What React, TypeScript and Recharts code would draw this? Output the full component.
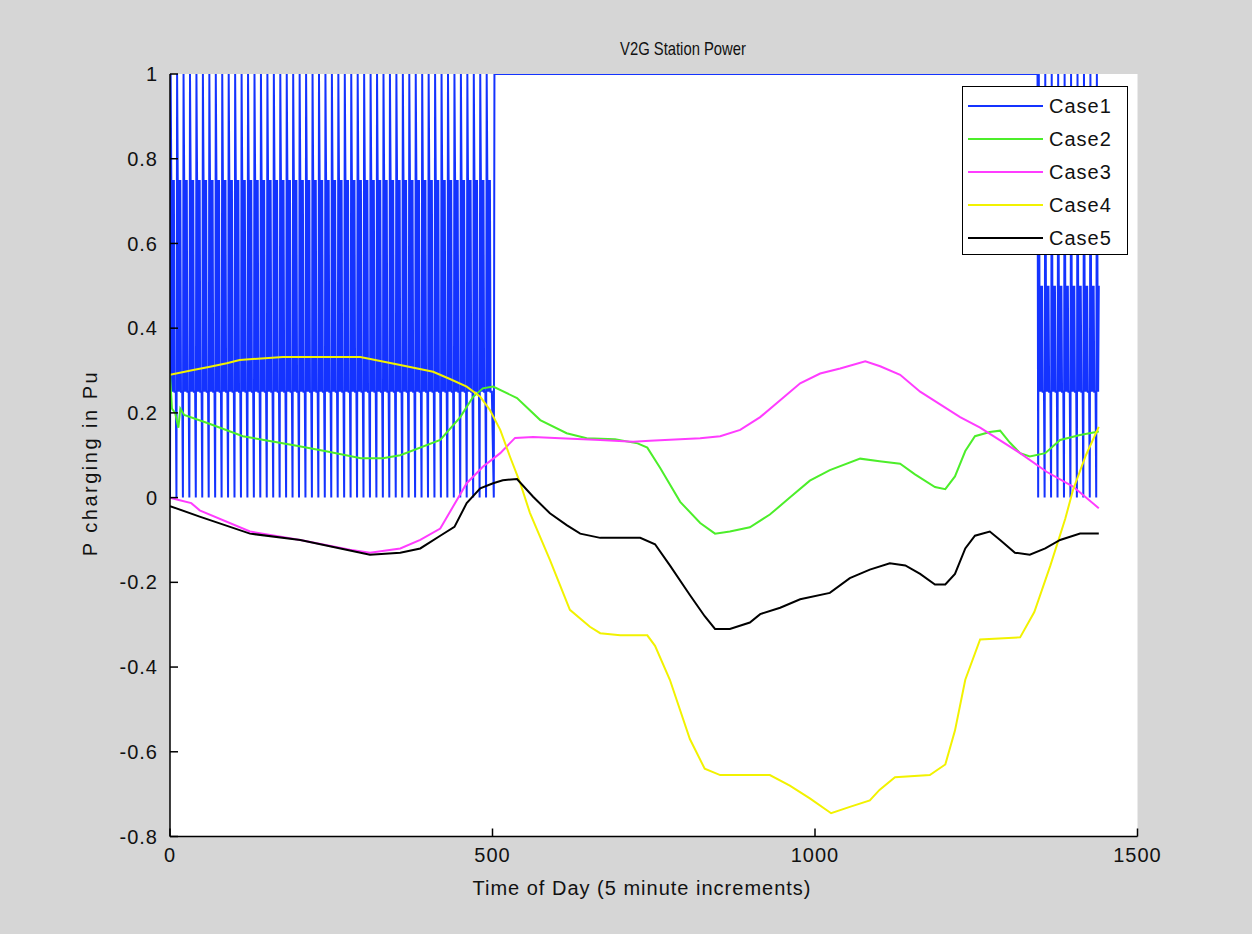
import React from 'react';
import { LineChart, Line, XAxis, YAxis, Legend, CartesianGrid } from 'recharts';

type Pt = { x: number; y: number };

// Axis ticks
const xTicks = [0, 500, 1000, 1500];
const yTicks = [-0.8, -0.6, -0.4, -0.2, 0, 0.2, 0.4, 0.6, 0.8, 1];
const yTickLabels = ['-0.8', '-0.6', '-0.4', '-0.2', '0', '0.2', '0.4', '0.6', '0.8', '1'];

// Case 1: switched charging levels (one switching period = 10 samples)
const case1Period = 10;
const case1MorningCycle = [0, 1, 0.75, 0.25, 0.75, 0.25, 0.75, 0.25, 0.25, 0.25];
const case1MorningStart = 0;
const case1MorningCycles = 50;
const case1Hold: number[][] = [[502, 0], [503, 1], [1345, 1]];
const case1EveningCycle = [0, 1, 0.5, 0.25, 0.5, 0.25, 0.5, 0.25, 0.25, 0.25];
const case1EveningStart = 1346;
const case1EveningCycles = 10;
const case1End = 1440;

// Case 2 .. Case 5: [time step, P in pu]
const case2: number[][] = [
  [0, 0.29], [3, 0.21], [8, 0.2], [13, 0.165], [16, 0.21], [22, 0.195], [60, 0.175],
  [113, 0.145], [150, 0.135], [190, 0.124], [240, 0.11], [296, 0.093], [330, 0.093],
  [357, 0.1], [419, 0.136], [450, 0.19], [470, 0.238], [485, 0.258], [501, 0.262],
  [538, 0.235], [574, 0.183], [615, 0.152], [646, 0.14], [690, 0.138], [725, 0.128],
  [740, 0.118], [760, 0.07], [791, -0.01], [822, -0.06], [845, -0.085], [868, -0.08],
  [899, -0.07], [930, -0.04], [961, 0.0], [992, 0.04], [1023, 0.065], [1070, 0.092],
  [1100, 0.086], [1132, 0.08], [1155, 0.055], [1186, 0.025], [1202, 0.02], [1217, 0.05],
  [1233, 0.11], [1248, 0.145], [1271, 0.155], [1287, 0.158], [1302, 0.13], [1318, 0.105],
  [1333, 0.097], [1357, 0.105], [1380, 0.136], [1411, 0.148], [1440, 0.156],
];
const case3: number[][] = [
  [0, 0], [12, -0.005], [33, -0.013], [46, -0.03], [124, -0.08], [202, -0.1],
  [279, -0.123], [310, -0.13], [357, -0.12], [388, -0.1], [419, -0.073], [460, 0.034],
  [485, 0.073], [512, 0.105], [535, 0.141], [563, 0.143], [605, 0.14], [667, 0.136],
  [718, 0.132], [744, 0.134], [822, 0.14], [853, 0.145], [884, 0.16], [915, 0.19],
  [946, 0.23], [977, 0.27], [1008, 0.293], [1039, 0.305], [1078, 0.322], [1101, 0.31],
  [1132, 0.29], [1163, 0.25], [1194, 0.22], [1225, 0.19], [1256, 0.165], [1318, 0.105],
  [1359, 0.061], [1400, 0.026], [1440, -0.025],
];
const case4: number[][] = [
  [0, 0.29], [36, 0.301], [62, 0.309], [88, 0.317], [108, 0.325], [175, 0.332],
  [295, 0.332], [357, 0.313], [408, 0.297], [434, 0.28], [460, 0.262], [481, 0.238],
  [496, 0.207], [512, 0.16], [527, 0.097], [543, 0.034], [558, -0.036], [589, -0.147],
  [620, -0.265], [651, -0.305], [667, -0.32], [698, -0.325], [740, -0.325], [752, -0.35],
  [775, -0.43], [806, -0.57], [829, -0.64], [853, -0.655], [930, -0.655], [961, -0.68],
  [992, -0.71], [1025, -0.745], [1054, -0.73], [1085, -0.715], [1100, -0.69],
  [1124, -0.66], [1178, -0.655], [1202, -0.63], [1217, -0.55], [1233, -0.43],
  [1256, -0.335], [1318, -0.33], [1340, -0.27], [1365, -0.16], [1388, -0.05],
  [1400, 0.018], [1420, 0.1], [1440, 0.167],
];
const case5: number[][] = [
  [0, -0.02], [46, -0.045], [124, -0.085], [202, -0.1], [279, -0.125], [310, -0.135],
  [357, -0.13], [388, -0.12], [419, -0.09], [441, -0.069], [460, -0.013], [481, 0.022],
  [501, 0.034], [516, 0.041], [538, 0.044], [563, 0.002], [589, -0.037], [615, -0.065],
  [636, -0.085], [667, -0.095], [729, -0.095], [752, -0.11], [775, -0.16], [806, -0.23],
  [829, -0.28], [845, -0.31], [868, -0.31], [899, -0.295], [915, -0.275], [946, -0.26],
  [977, -0.24], [1023, -0.225], [1054, -0.19], [1085, -0.17], [1116, -0.155],
  [1140, -0.16], [1163, -0.18], [1186, -0.205], [1202, -0.205], [1217, -0.18],
  [1233, -0.12], [1248, -0.09], [1271, -0.08], [1287, -0.1], [1310, -0.13],
  [1333, -0.135], [1357, -0.12], [1380, -0.1], [1411, -0.085], [1440, -0.085],
];

const seriesNames = ['Case1', 'Case2', 'Case3', 'Case4', 'Case5'];
const seriesColors = ['#1433ff', '#4cee2a', '#ff3cff', '#f2f200', '#000000'];

const toPts = (pairs: number[][]): Pt[] => pairs.map(([x, y]) => ({ x, y }));

const buildCase1 = (): Pt[] => {
  const out: Pt[] = [];
  for (let c = 0; c < case1MorningCycles; c++) {
    case1MorningCycle.forEach((v, i) => out.push({ x: case1MorningStart + c * case1Period + i, y: v }));
  }
  case1Hold.forEach(([x, y]) => out.push({ x, y }));
  for (let c = 0; c < case1EveningCycles; c++) {
    case1EveningCycle.forEach((v, i) => {
      const x = case1EveningStart + c * case1Period + i;
      if (x <= case1End) out.push({ x, y: v });
    });
  }
  return out;
};

const seriesData: Pt[][] = [buildCase1(), toPts(case2), toPts(case3), toPts(case4), toPts(case5)];

const FONT = '"Liberation Sans", Arial, Helvetica, sans-serif';
const tickStyle = { fontSize: 20, fill: '#111', fontFamily: FONT, letterSpacing: 1 };

const LegendBox = (props: any) => {
  const payload = props.payload || [];
  return (
    <div
      style={{
        position: 'relative',
        width: 166,
        height: 169,
        boxSizing: 'border-box',
        border: '1.5px solid #000',
        background: '#fff',
        fontFamily: FONT,
        fontSize: 20,
        letterSpacing: 1,
        color: '#111',
      }}
    >
      {payload.map((p: any, i: number) => (
        <div
          key={p.value}
          style={{ position: 'absolute', left: 0, top: 19 + i * 33 - 12, height: 24, width: 164 }}
        >
          <svg width={84} height={24} style={{ position: 'absolute', left: 0, top: 0 }}>
            <line x1={5} x2={80} y1={12} y2={12} stroke={p.color} strokeWidth={2} />
          </svg>
          <span style={{ position: 'absolute', left: 86, top: 0, lineHeight: '24px' }}>{p.value}</span>
        </div>
      ))}
    </div>
  );
};

export default function App() {
  return (
    <div
      style={{
        position: 'absolute',
        left: 0,
        top: 0,
        width: 1252,
        height: 934,
        background: '#d6d6d6',
        fontFamily: FONT,
      }}
    >
      <LineChart width={1252} height={934} margin={{ top: 74, right: 114.5, bottom: 57.5, left: 110 }}>
        <CartesianGrid horizontal={false} vertical={false} fill="#ffffff" />
        <XAxis
          dataKey="x"
          type="number"
          domain={[0, 1500]}
          ticks={xTicks}
          allowDataOverflow
          height={40}
          tickSize={-8}
          tickMargin={19}
          tick={tickStyle}
          axisLine={{ stroke: '#000', strokeWidth: 1.5 }}
          tickLine={{ stroke: '#000', strokeWidth: 1.5 }}
        />
        <XAxis
          xAxisId="top"
          orientation="top"
          dataKey="x"
          type="number"
          domain={[0, 1500]}
          ticks={xTicks}
          allowDataOverflow
          height={0}
          tickSize={-8}
          tickFormatter={() => ''}
          axisLine={{ stroke: '#000', strokeWidth: 1.5 }}
          tickLine={{ stroke: '#000', strokeWidth: 1.5 }}
        />
        <YAxis
          type="number"
          domain={[-0.8, 1]}
          ticks={yTicks}
          allowDataOverflow
          width={60}
          tickSize={-8}
          tickMargin={20}
          tick={tickStyle}
          tickFormatter={(v: number) => yTickLabels[yTicks.indexOf(v)] ?? String(v)}
          axisLine={{ stroke: '#000', strokeWidth: 1.5 }}
          tickLine={{ stroke: '#000', strokeWidth: 1.5 }}
        />
        <YAxis
          yAxisId="right"
          orientation="right"
          type="number"
          domain={[-0.8, 1]}
          ticks={yTicks}
          allowDataOverflow
          width={0}
          tickSize={-8}
          tickFormatter={() => ''}
          axisLine={{ stroke: '#000', strokeWidth: 1.5 }}
          tickLine={{ stroke: '#000', strokeWidth: 1.5 }}
        />
        {seriesData.map((d, i) => (
          <Line
            key={seriesNames[i]}
            data={d}
            dataKey="y"
            name={seriesNames[i]}
            type="linear"
            stroke={seriesColors[i]}
            strokeWidth={2}
            dot={false}
            activeDot={false}
            isAnimationActive={false}
          />
        ))}
        <Legend
          layout="vertical"
          align="center"
          verticalAlign="middle"
          content={<LegendBox />}
          wrapperStyle={{ position: 'absolute', left: 962, top: 86, width: 166, height: 169 }}
        />
      </LineChart>
      <div
        style={{
          position: 'absolute',
          left: 683,
          top: 49,
          transform: 'translate(-50%, -50%) scaleX(0.8)',
          fontSize: 18.5,
          color: '#111',
          whiteSpace: 'nowrap',
        }}
      >
        V2G Station Power
      </div>
      <div
        style={{
          position: 'absolute',
          left: 642,
          top: 888,
          transform: 'translate(-50%, -50%)',
          fontSize: 20,
          letterSpacing: 1,
          color: '#111',
          whiteSpace: 'nowrap',
        }}
      >
        Time of Day (5 minute increments)
      </div>
      <div
        style={{
          position: 'absolute',
          left: 90,
          top: 463,
          transform: 'translate(-50%, -50%) rotate(-90deg)',
          fontSize: 20,
          letterSpacing: 2.5,
          color: '#111',
          whiteSpace: 'nowrap',
        }}
      >
        P charging in Pu
      </div>
    </div>
  );
}
